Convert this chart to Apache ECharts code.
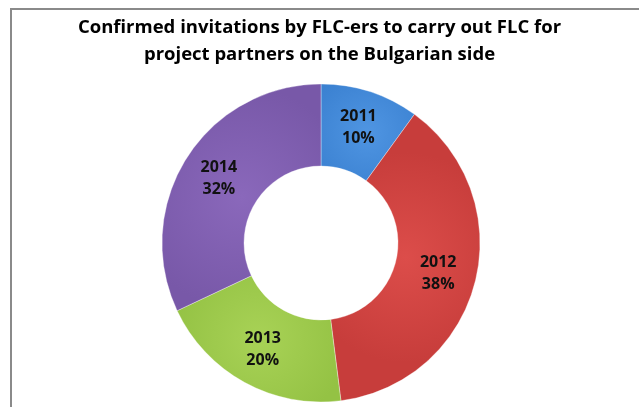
<!DOCTYPE html>
<html>
<head>
<meta charset="utf-8">
<script src="https://cdn.jsdelivr.net/npm/echarts@6/dist/echarts.min.js"></script>
<style>
  html, body { margin: 0; padding: 0; background: #fff; }
  #frame { position: absolute; left: 10px; top: 8px; width: 640px; height: 410px;
           border-left: 2px solid #8a8a8a; border-top: 2px solid #8a8a8a; }
  #chart { position: absolute; left: 0; top: 0; width: 639px; height: 407px; }
</style>
</head>
<body>
<div id="frame"></div>
<div id="chart"></div>
<script>
// 年度別 데이터
var years = ['2011', '2012', '2013', '2014'];
var shares = [10, 38, 20, 32];
var sliceColors = [
    ['#4f95e2', '#3a80d0'],
    ['#dc4d4a', '#c73d3b'],
    ['#a8d256', '#94c244'],
    ['#8a68bb', '#7858a8']
];

document.addEventListener("DOMContentLoaded", () => {
    var data = years.map(function (y, i) {
        return {
            name: y,
            value: shares[i],
            itemStyle: {
                color: {
                    type: 'radial', x: 0.5, y: 0.5, r: 0.7,
                    colorStops: [
                        { offset: 0, color: sliceColors[i][0] },
                        { offset: 1, color: sliceColors[i][1] }
                    ]
                }
            }
        };
    });

    echarts.init(document.querySelector("#chart")).setOption({
        animation: false,
        title: {
            text: 'Confirmed invitations by FLC-ers to carry out FLC for\nproject partners on the Bulgarian side',
            left: 'center',
            top: 9,
            textStyle: {
                fontFamily: 'Open Sans',
                fontWeight: 'bold',
                fontSize: 18.5,
                lineHeight: 27,
                color: '#000'
            }
        },
        series: [{
            type: 'pie',
            center: [321, 243],
            radius: [77, 159],
            startAngle: 90,
            clockwise: true,
            data: data,
            itemStyle: {
                borderColor: 'rgba(255,255,255,0.35)',
                borderWidth: 1
            },
            label: {
                position: 'inside',
                formatter: function (p) { return p.name + '\n' + p.value + '%'; },
                fontFamily: 'Open Sans',
                fontWeight: 'bold',
                fontSize: 16,
                lineHeight: 22,
                color: '#111'
            },
            labelLine: { show: false }
        }]
    });
});
</script>
</body>
</html>
